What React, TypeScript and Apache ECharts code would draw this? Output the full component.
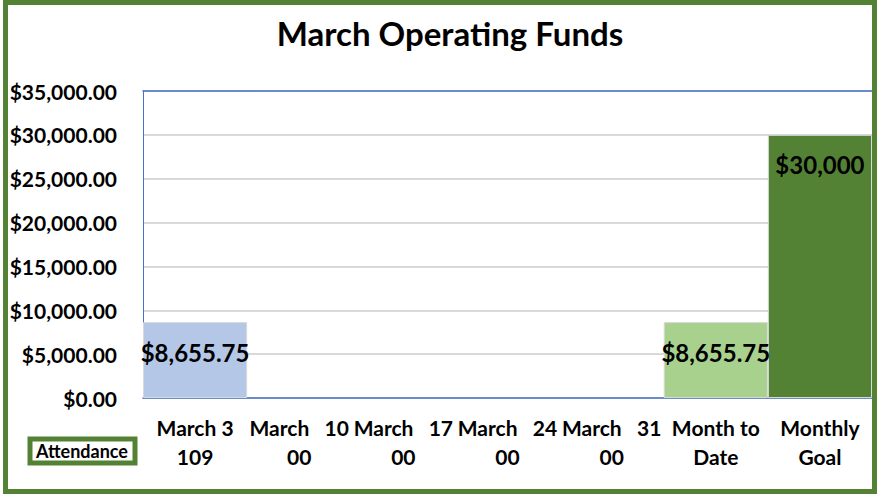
import React, { useEffect, useRef } from "react";
import * as echarts from "echarts";

const categories = ["March 3\n109", "March   10\n00", "March   17\n00", "March   24\n00", "March   31\n00", "Month to\nDate", "Monthly\nGoal"];
const values = [8655.75, 0, 0, 0, 0, 8655.75, 30000];
const barColors = ["#B4C7E7", "#B4C7E7", "#B4C7E7", "#B4C7E7", "#B4C7E7", "#A9D18E", "#548235"];
const valueLabels = ["$8,655.75", "", "", "", "", "$8,655.75", "$30,000"];
const labelPlaces = ["inside", "", "", "", "", "inside", "insideTop"];
const yTicks = [0, 5000, 10000, 15000, 20000, 25000, 30000, 35000];
const titleText = "March Operating Funds";
const legendText = "Attendance";

const FONT = "Lato";
const BLUE = "#4472C4";

function fmtMoney(v: number) {
  return "$" + v.toLocaleString("en-US", { minimumFractionDigits: 2, maximumFractionDigits: 2 });
}

export default function App() {
  const ref = useRef<HTMLDivElement>(null);
  useEffect(() => {
    const chart = echarts.init(ref.current!, null, { renderer: "svg" });
    chart.setOption({
      animation: false,
      backgroundColor: "#ffffff",
      title: {
        text: titleText,
        left: 445,
        top: 11,
        textAlign: "center",
        textStyle: { fontFamily: FONT, fontWeight: "bold", fontSize: 33, color: "#000" },
      },
      grid: {
        left: 143,
        top: 91,
        width: 729,
        height: 307,
        show: false,
      },
      xAxis: [
        {
          type: "category",
          data: categories,
          axisLine: { show: true, lineStyle: { color: BLUE, width: 1.5 } },
          axisTick: { show: false },
          axisLabel: {
            interval: 0,
            margin: 15,
            fontFamily: FONT,
            fontWeight: "bold",
            fontSize: 21,
            lineHeight: 29,
            color: "#000",
          },
        },
        {
          type: "category",
          position: "top",
          data: categories,
          axisLine: { show: true, lineStyle: { color: BLUE, width: 1.5 } },
          axisTick: { show: false },
          axisLabel: { show: false },
        },
      ],
      yAxis: {
        type: "value",
        min: yTicks[0],
        max: yTicks[yTicks.length - 1],
        interval: yTicks[1] - yTicks[0],
        axisLine: { show: true, lineStyle: { color: BLUE, width: 1 } },
        axisTick: { show: false },
        splitLine: { lineStyle: { color: "#D9D9D9", width: 2 } },
        axisLabel: {
          margin: 26,
          fontFamily: FONT,
          fontWeight: "bold",
          fontSize: 21,
          color: "#000",
          formatter: (v: number) => fmtMoney(v),
        },
      },
      series: [
        {
          type: "bar",
          barCategoryGap: "0%",
          z: 3,
          data: values.map((v, i) => ({
            value: v,
            itemStyle: { color: barColors[i], borderColor: "#D9D9D9", borderWidth: v > 0 ? 1 : 0 },
            label: {
              show: valueLabels[i] !== "",
              position: labelPlaces[i] || "inside",
              distance: 18,
              offset: labelPlaces[i] === "inside" ? [0, -8] : [0, 0],
              formatter: valueLabels[i],
              fontFamily: FONT,
              fontWeight: "bold",
              fontSize: 24,
              color: "#000",
            },
          })),
        },
      ],
      graphic: [
        {
          type: "rect",
          shape: { x: 5.5, y: 2.5, width: 869, height: 489 },
          style: { fill: "none", stroke: "#548235", lineWidth: 5 },
          z: 100,
        },
        {
          type: "rect",
          shape: { x: 30, y: 439, width: 105, height: 24 },
          style: { fill: "#ffffff", stroke: "#548235", lineWidth: 5 },
        },
        {
          type: "text",
          x: 82,
          y: 451,
          style: {
            text: legendText,
            fill: "#000",
            font: "bold 18px " + FONT,
            textAlign: "center",
            textVerticalAlign: "middle",
          },
        },
      ],
    });
    return () => chart.dispose();
  }, []);
  return <div ref={ref} style={{ position: "fixed", left: 0, top: 0, width: 877, height: 494 }} />;
}
